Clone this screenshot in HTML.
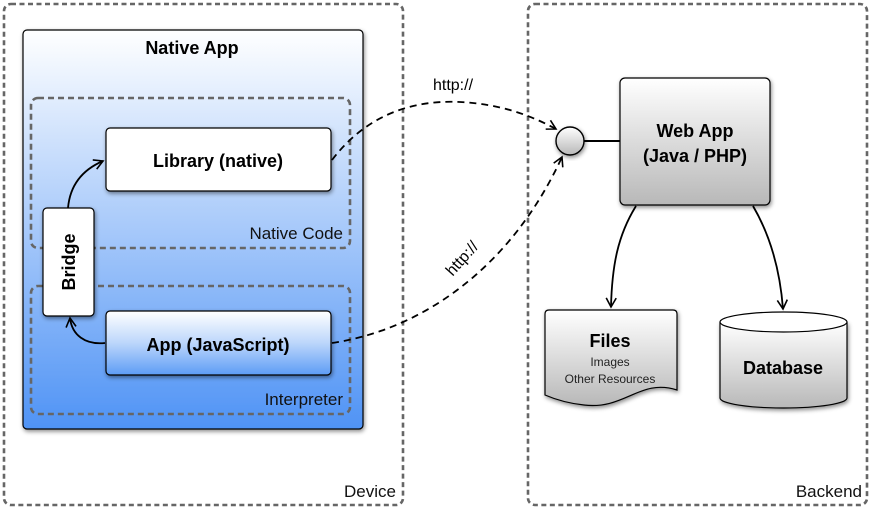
<!DOCTYPE html>
<html><head><meta charset="utf-8"><style>
html,body{margin:0;padding:0;background:#fff}
svg{display:block;font-family:"Liberation Sans",sans-serif}
</style></head><body>
<svg width="871" height="508" viewBox="0 0 871 508" xmlns="http://www.w3.org/2000/svg">
<defs>
<linearGradient id="blue" x1="0" y1="0" x2="0" y2="1"><stop offset="0" stop-color="#ffffff"/><stop offset="1" stop-color="#4f93f5"/></linearGradient>
<linearGradient id="app" x1="0" y1="0" x2="0" y2="1"><stop offset="0" stop-color="#ffffff"/><stop offset="0.5" stop-color="#bcd6fb"/><stop offset="1" stop-color="#5d9cf5"/></linearGradient>
<linearGradient id="gray" x1="0" y1="0" x2="0" y2="1"><stop offset="0" stop-color="#ffffff"/><stop offset="1" stop-color="#b8b8b8"/></linearGradient>
<filter id="sh" x="-10%" y="-10%" width="130%" height="130%"><feDropShadow dx="1" dy="2" stdDeviation="2" flood-color="#000" flood-opacity="0.45"/></filter>
<marker id="ah" markerWidth="12" markerHeight="12" refX="10" refY="6" orient="auto" markerUnits="userSpaceOnUse"><path d="M1,1 L10,6 L1,11" fill="none" stroke="#000" stroke-width="1.6"/></marker>
</defs>
<rect x="4" y="4" width="399" height="501" rx="7" fill="none" stroke="#666" stroke-width="2.6" stroke-dasharray="5,3.5"/>
<rect x="528" y="4" width="339" height="501" rx="7" fill="none" stroke="#666" stroke-width="2.6" stroke-dasharray="5,3.5"/>
<text x="396" y="497" font-size="17" text-anchor="end" fill="#111">Device</text>
<text x="862" y="497" font-size="17" text-anchor="end" fill="#111">Backend</text>
<rect x="23" y="30" width="340" height="399" rx="4" fill="url(#blue)" stroke="#000" stroke-width="1.2" filter="url(#sh)"/>
<text x="192" y="54" font-size="18" font-weight="bold" text-anchor="middle">Native App</text>
<rect x="31" y="98" width="319" height="150" rx="7" fill="none" stroke="#666" stroke-width="2.6" stroke-dasharray="6,4"/>
<text x="343" y="239" font-size="17" text-anchor="end" fill="#111">Native Code</text>
<rect x="31" y="286" width="319" height="128" rx="7" fill="none" stroke="#666" stroke-width="2.6" stroke-dasharray="6,4"/>
<text x="343" y="405" font-size="17" text-anchor="end" fill="#111">Interpreter</text>
<path d="M68,208 C70,185 82,170 103,161" fill="none" stroke="#000" stroke-width="1.8" marker-end="url(#ah)"/>
<path d="M105,343 C85,345 72,335 70,318" fill="none" stroke="#000" stroke-width="1.8" marker-end="url(#ah)"/>
<rect x="106" y="128" width="225" height="63" rx="4" fill="#fff" stroke="#000" stroke-width="1.2" filter="url(#sh)"/>
<text x="218" y="167" font-size="18" font-weight="bold" text-anchor="middle">Library (native)</text>
<rect x="43" y="208" width="51" height="108" rx="4" fill="#fff" stroke="#000" stroke-width="1.2" filter="url(#sh)"/>
<text transform="translate(75,262) rotate(-90)" font-size="18" font-weight="bold" text-anchor="middle">Bridge</text>
<rect x="106" y="311" width="225" height="64" rx="4" fill="url(#app)" stroke="#000" stroke-width="1.2" filter="url(#sh)"/>
<text x="218" y="351" font-size="18" font-weight="bold" text-anchor="middle">App (JavaScript)</text>
<path d="M332,160 C370,110 420,100 460,102 C500,104 530,115 556,129" fill="none" stroke="#000" stroke-width="1.8" stroke-dasharray="7,5" marker-end="url(#ah)"/>
<path d="M332,343 C420,330 510,270 562,157" fill="none" stroke="#000" stroke-width="1.8" stroke-dasharray="7,5" marker-end="url(#ah)"/>
<text x="453" y="90" font-size="16" text-anchor="middle">http://</text>
<text transform="translate(466,262) rotate(-48)" font-size="16" text-anchor="middle">http://</text>
<line x1="584" y1="141" x2="621" y2="141" stroke="#000" stroke-width="2"/>
<circle cx="570" cy="141" r="14" fill="url(#gray)" stroke="#000" stroke-width="1.4" filter="url(#sh)"/>
<rect x="620" y="78" width="150" height="127" rx="5" fill="url(#gray)" stroke="#000" stroke-width="1.2" filter="url(#sh)"/>
<text x="695" y="137" font-size="18" font-weight="bold" text-anchor="middle">Web App</text>
<text x="695" y="162" font-size="18" font-weight="bold" text-anchor="middle">(Java / PHP)</text>
<path d="M636,206 C618,235 612,265 611,307" fill="none" stroke="#000" stroke-width="1.8" marker-end="url(#ah)"/>
<path d="M753,206 C770,235 780,270 783,309" fill="none" stroke="#000" stroke-width="1.8" marker-end="url(#ah)"/>
<path d="M549,310 L673,310 Q677,310 677,314 L677,390 C640,378 625,410 584,405 C565,403 552,398 545,395 L545,314 Q545,310 549,310 Z" fill="url(#gray)" stroke="#000" stroke-width="1.2" filter="url(#sh)"/>
<text x="610" y="347" font-size="18" font-weight="bold" text-anchor="middle">Files</text>
<text x="610" y="366" font-size="12" text-anchor="middle" fill="#222">Images</text>
<text x="610" y="383" font-size="12" text-anchor="middle" fill="#222">Other Resources</text>
<path d="M720,322 L720,398 A63.5,10 0 0 0 847,398 L847,322" fill="url(#gray)" stroke="#000" stroke-width="1.2" filter="url(#sh)"/>
<ellipse cx="783.5" cy="322" rx="63.5" ry="10" fill="#fff" stroke="#000" stroke-width="1.2"/>
<text x="783" y="374" font-size="18" font-weight="bold" text-anchor="middle">Database</text>
</svg>
</body></html>
